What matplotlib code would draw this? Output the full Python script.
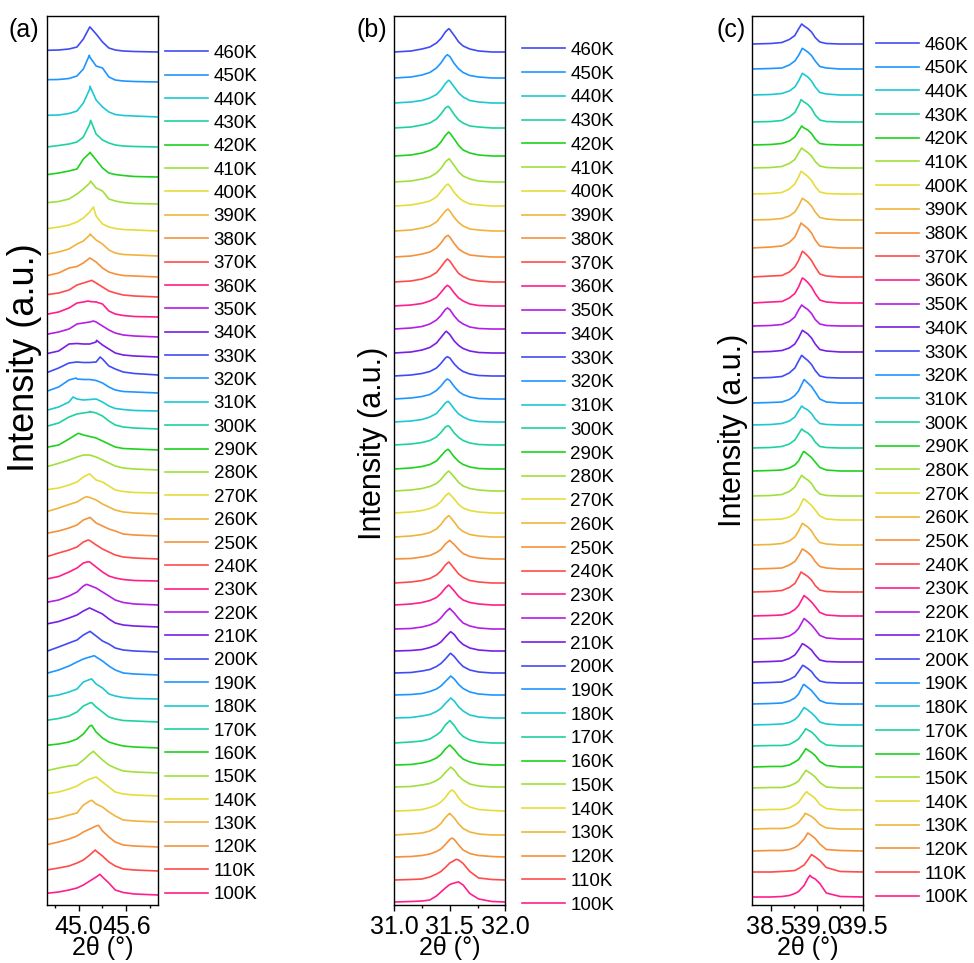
import numpy as np
import matplotlib
matplotlib.use('Agg')
import matplotlib.pyplot as plt
from matplotlib.ticker import FormatStrFormatter

plt.rcParams['font.family'] = ['Liberation Sans', 'DejaVu Sans']

# ---------------- data ----------------
temps = [460, 450, 440, 430, 420, 410, 400, 390, 380, 370, 360, 350, 340, 330,
         320, 310, 300, 290, 280, 270, 260, 250, 240, 230, 220, 210, 200, 190,
         180, 170, 160, 150, 140, 130, 120, 110, 100]
labels = [f'{t}K' for t in temps]

colors = ['#3f4cf5', '#1e96ff', '#1ec8d2', '#1ed2a0', '#1ed21e', '#a0e03c',
          '#e6dc3c', '#f0b43c', '#f5913c', '#ff4b4b', '#ff1e8c', '#b41ee6',
          '#781ee6']

# panel (a)
a_grid = [44.6, 44.75, 44.88, 44.98, 45.06, 45.14, 45.22, 45.30, 45.38, 45.46, 45.56, 45.7, 46.0]
a_offsets = [853, 823, 788, 758, 728, 701, 674, 649, 628, 608, 588, 568, 548, 530, 512, 494,
             476, 455, 435, 412, 391, 369, 346, 324, 300, 278, 253, 230, 206, 183, 157, 132,
             109, 83, 58, 34, 10]
a_peak_x = [45.143, 45.135, 45.143, 45.151, 45.143, 45.151, 45.185, 45.143, 45.143, 45.164,
            45.12, 45.185, 45.226, 45.27, 44.97, 44.93, 45.14, 45.0, 45.1, 45.135, 45.10,
            45.143, 45.12, 45.12, 45.10, 45.135, 45.143, 45.197, 45.165, 45.165, 45.165,
            45.185, 45.22, 45.165, 45.25, 45.21, 45.268]
a_peak_h = [25, 26.7, 30.7, 26.7, 24.7, 23, 24, 22, 19, 16.7, 16, 16, 16.7, 18, 15, 14, 17.5,
            16.7, 15, 19, 17.3, 18.7, 19, 19.3, 20.7, 19, 20.7, 19.3, 20, 19.3, 22.7, 21.7,
            19, 21.7, 21.7, 21, 20.7]
a_profiles = [
    [1.7, 2, 3, 5, 13, 25, 18, 10, 4, 2, 1, 0.5, 0],
    [2.3, 2.5, 3.5, 6, 13, 25, 16, 14, 5, 2, 1, 0.5, 0],
    [1.7, 2, 3.5, 6, 14, 28, 17, 10, 5, 2.5, 1.5, 1, 0],
    [0, 1.5, 3, 5, 10, 23, 13, 7, 4, 2, 1, 0.5, 0],
    [2.3, 4, 6, 8, 18, 24, 17, 9, 4, 2.5, 1.5, 0.5, 0],
    [1.3, 2.5, 5, 10, 15, 21, 16, 13, 5, 3, 1.5, 0.5, 0],
    [2.3, 4, 6, 9, 13, 19, 15, 7, 4, 2.5, 1.5, 1, 0],
    [1.7, 4, 7, 12, 15, 21, 16, 12, 6, 3, 1.5, 1, 0],
    [1.3, 4, 9, 10.5, 14, 19, 15, 9, 5, 3, 1.5, 1, 0],
    [2.3, 4, 7, 12, 14, 16, 14, 10, 6, 4, 2, 1, 0],
    [2.7, 5, 9, 14, 15, 15.5, 15, 13, 6, 3, 1.5, 0.5, 0],
    [2.7, 5, 8, 13, 14, 15, 15, 11, 7, 4, 2, 1, 0],
    [3.3, 6, 13, 13.5, 13, 13, 15, 12, 8, 4, 2, 1, 0],
    [2.3, 7, 12, 13, 12.5, 12.5, 13, 16, 9, 6, 3, 1.5, 0],
    [1.7, 6, 13, 14, 13.5, 13.5, 12.5, 10, 6, 3, 1.5, 1, 0],
    [0.7, 4, 9, 12, 11, 11.5, 12, 9, 5, 2.5, 1.5, 0.5, 0],
    [2.7, 6, 12, 15, 16, 17, 16, 13, 8, 4, 2, 1, 0],
    [2.7, 5, 11, 16, 15, 13.5, 12, 9, 6, 3, 1.5, 1, 0],
    [3.3, 6.7, 10, 13, 15, 15, 13, 10, 7, 4, 2, 1, 0],
    [3.3, 5, 8, 11, 16, 19, 13, 11, 7, 3, 1.5, 0.5, 0],
    [2.3, 6, 9.5, 12, 16, 16.5, 14, 10, 7, 4, 2, 1, 0],
    [2.7, 5, 8, 11, 16, 18.5, 13, 10, 7, 5, 2, 1, 0],
    [2.3, 6, 9, 12, 17, 18.5, 14, 10, 7, 4, 2, 1, 0],
    [2, 4.5, 9, 13, 18, 19, 14, 9, 5, 3, 1.5, 0.5, 0],
    [2.7, 5, 9, 13, 19, 19.5, 17, 13, 9, 5, 2.5, 1, 0],
    [3, 5.5, 9, 12, 16, 19, 16, 13, 8, 4, 2, 1, 0],
    [0.7, 5, 9, 12, 17, 20.5, 16, 11, 8, 4, 2, 1, 0],
    [1.7, 5, 9, 13, 16, 18, 18, 14, 9, 5, 2, 1, 0],
    [2.3, 4, 7, 10, 17, 19.5, 15, 11, 5, 3, 1.5, 0.5, 0],
    [1.7, 3.5, 6, 10, 16, 19, 15, 10, 5, 3, 1.5, 1, 0],
    [2.7, 4, 6, 9, 14, 22, 16, 10, 6, 4, 2, 1, 0],
    [2.3, 5, 7, 8, 13, 19, 19, 13, 8, 5, 2, 1, 0],
    [2.3, 4, 7, 10, 14, 17, 19, 14, 9, 4, 2, 1, 0],
    [2.3, 4, 7, 9, 17, 21, 18, 15, 10, 6, 2, 1, 0],
    [2.3, 5, 8, 11, 15, 18, 21, 16, 10, 5, 2, 1, 0],
    [1, 3, 5, 8, 11, 16, 20, 15, 9, 5, 2, 1, 0],
    [1.7, 3, 5, 7, 10, 14, 18, 18, 12, 5, 2.5, 1, 0],
]
a_xlim = (44.6, 46.0)
a_major = [45.0, 45.6]
a_minor = [44.7, 45.3, 45.9]

# panel (b)
b_grid = [31.0, 31.15, 31.25, 31.32, 31.38, 31.42, 31.46, 31.5, 31.54, 31.58, 31.62, 31.68, 31.76, 31.88, 32.0]
b_offsets = [853, 827, 802, 777, 749, 723, 699, 674, 648, 623, 599, 576, 552, 529, 506, 483,
             460, 436, 414, 392, 368, 346, 322, 300, 276, 254, 232, 210, 187, 162, 140, 118,
             94, 70, 48, 25, 3]
b_peak_x = [31.49, 31.478, 31.49, 31.484, 31.49, 31.493, 31.484, 31.484, 31.484, 31.478, 31.478,
            31.478, 31.469, 31.478, 31.478, 31.484, 31.484, 31.484, 31.49, 31.49, 31.49, 31.499,
            31.49, 31.49, 31.499, 31.508, 31.508, 31.508, 31.508, 31.499, 31.499, 31.508, 31.52,
            31.499, 31.52, 31.559, 31.574]
b_peak_h = [23.3, 23.3, 22.7, 21.7, 24, 23.3, 22, 22, 21.7, 23, 20.7, 21, 21.7, 19.3, 20, 20.7,
            19.3, 19.7, 20, 20, 21.3, 18.7, 21, 20, 20.7, 19.3, 19.7, 19, 20, 22.3, 20, 20, 21,
            21.7, 19, 20.7, 20]
b_profiles = [
    [0, 1, 3, 5, 9, 13.5, 20, 22.5, 16.5, 10, 6, 3, 1, 0, 0],
    [0, 1, 3, 5.5, 10, 15, 21.5, 21.5, 14.5, 9, 5.5, 2.5, 1, 0, 0],
    [0, 1, 2.5, 5, 8.5, 13, 19.5, 22, 16, 10, 6, 2.5, 1, 0, 0],
    [0, 1, 3, 5, 9, 14, 20, 20, 13.5, 8, 5, 2, 1, 0, 0],
    [0, 1, 3, 5.5, 9, 14, 20.5, 23, 17, 10.5, 6, 3, 1, 0, 0],
    [0, 1, 3, 5, 9, 13.5, 20, 22.5, 16.5, 10, 6, 3, 1, 0, 0],
    [0, 1, 3, 5, 9, 14.5, 20, 20, 13.5, 8.5, 5, 2, 1, 0, 0],
    [0, 1, 3, 5, 9, 14.5, 20, 20, 13.5, 8.5, 5, 2, 1, 0, 0],
    [0, 1, 3, 5, 9, 14, 20, 20, 13.5, 8, 5, 2, 1, 0, 0],
    [0, 1, 3, 5.5, 9.5, 15, 21, 21, 14.5, 8.5, 5.5, 2.5, 1, 0, 0],
    [0, 1, 2.5, 5, 8.5, 13.5, 19, 19, 13, 8, 5, 2, 0.5, 0, 0],
    [0, 1, 2.5, 5, 9, 13.5, 19.5, 19.5, 13, 8, 5, 2, 0.5, 0, 0],
    [0, 1, 3, 5.5, 10, 15.5, 21, 18.5, 12, 7.5, 4.5, 2, 0.5, 0, 0],
    [0, 1, 2.5, 4.5, 8, 12.5, 18, 18, 12, 7.5, 4.5, 2, 0.5, 0, 0],
    [0, 1, 2.5, 4.5, 8.5, 13, 18.5, 18.5, 12.5, 7.5, 4.5, 2, 0.5, 0, 0],
    [0, 1, 2.5, 5, 8.5, 13.5, 19, 19, 13, 8, 5, 2, 0.5, 0, 0],
    [0, 1, 2.5, 4.5, 8, 12.5, 18, 18, 12, 7.5, 4.5, 2, 0.5, 0, 0],
    [0, 1, 2.5, 4.5, 8, 13, 18, 18, 12, 7.5, 4.5, 2, 0.5, 0, 0],
    [0, 1, 2.5, 4.5, 7.5, 11.5, 17, 19, 14, 8.5, 5, 2.5, 1, 0, 0],
    [0, 1, 2.5, 4.5, 7.5, 11.5, 17, 19, 14, 8.5, 5, 2.5, 1, 0, 0],
    [0, 1, 2.5, 4.5, 8, 12.5, 18.5, 20.5, 15, 9, 5.5, 2.5, 1, 0, 0],
    [0, 0.5, 2, 3.5, 6.5, 9.5, 15, 18.5, 14.5, 9.5, 5.5, 2.5, 1, 0, 0],
    [0, 1, 2.5, 4.5, 8, 12, 18, 20, 14.5, 9, 5.5, 2.5, 1, 0, 0],
    [0, 1, 2.5, 4.5, 7.5, 11.5, 17, 19, 14, 8.5, 5, 2.5, 1, 0, 0],
    [0, 0.5, 2, 4, 7, 11, 16.5, 20.5, 16, 10.5, 6, 3, 1, 0, 0],
    [0, 0.5, 1.5, 3.5, 6, 9, 14, 18.5, 16.5, 10.5, 6.5, 3, 1, 0, 0],
    [0, 0.5, 2, 3.5, 6.5, 9.5, 14, 19, 16.5, 11, 6.5, 3, 1, 0, 0],
    [0, 0.5, 1.5, 3.5, 6, 9, 13.5, 18, 16, 10.5, 6.5, 3, 1, 0, 0],
    [0, 0.5, 2, 3.5, 6.5, 9.5, 14.5, 19, 17, 11, 7, 3, 1, 0, 0],
    [0, 1, 2, 4, 8, 11.5, 18, 22.5, 17.5, 11, 6.5, 3, 1, 0, 0],
    [0, 0.5, 2, 4, 7, 10.5, 16, 20, 15.5, 10, 6, 3, 1, 0, 0],
    [0, 0.5, 2, 3.5, 6.5, 9.5, 14.5, 19, 17, 11, 7, 3, 1, 0, 0],
    [0, 0.5, 1.5, 3.5, 6, 9, 13.5, 19.5, 19.5, 13, 8, 4, 1.5, 0.5, 0],
    [0, 1, 2, 4, 7.5, 11.5, 17.5, 21.5, 17, 11, 6.5, 3, 1, 0, 0],
    [0, 0.5, 1.5, 3, 5.5, 8, 12.5, 17.5, 17.5, 12, 7, 3.5, 1.5, 0.5, 0],
    [0, 0.5, 1, 3, 6, 8.5, 12.5, 17, 19.5, 20, 16.5, 8.5, 2, 0.5, 0],
    [0, 0.5, 1, 2, 6, 10, 14, 17.5, 19, 20, 17, 8.5, 3, 0.5, 0],
]
b_xlim = (31.0, 32.0)
b_major = [31.0, 31.5, 32.0]
b_minor = [31.25, 31.75]

# panel (c)
c_grid = [38.3, 38.5, 38.62, 38.7, 38.76, 38.8, 38.86, 38.9, 38.94, 38.98, 39.03, 39.1, 39.25, 39.5]
c_offsets = [861, 836, 810, 783, 760, 737, 711, 685, 657, 628, 602, 579, 553, 527, 502, 480,
             457, 434, 409, 385, 360, 336, 313, 289, 266, 243, 222, 201, 180, 159, 138, 117,
             95, 76, 54, 33, 8]
c_peak_x = [38.834, 38.841, 38.841, 38.827, 38.834, 38.834, 38.827, 38.841, 38.827, 38.841,
            38.841, 38.834, 38.841, 38.834, 38.862, 38.834, 38.834, 38.852, 38.834, 38.852,
            38.841, 38.841, 38.827, 38.862, 38.859, 38.841, 38.845, 38.852, 38.862, 38.877,
            38.877, 38.88, 38.888, 38.87, 38.899, 38.942, 38.924]
c_peak_h = [20, 20.7, 21.7, 22.3, 19, 20, 22.7, 21.7, 25, 25.7, 25, 21, 21.7, 22.7, 23.3, 19,
            19, 19.3, 20.7, 21, 21.7, 20, 20, 20.3, 20.3, 18.3, 17.7, 19.3, 17.3, 17.3, 18.3,
            17.7, 18.3, 15.7, 18, 17.3, 21.7]
c_profiles = [
    [0, 0.5, 1.5, 4.5, 8.5, 15, 18, 15.5, 12, 6.5, 2, 0.5, 0, 0],
    [0, 0.5, 1, 4, 8, 13.5, 19.5, 17, 13.5, 8, 2.5, 1, 0, 0],
    [0, 0.5, 1.5, 4, 8, 14, 20.5, 18, 14, 8, 2.5, 1, 0, 0],
    [0, 0.5, 1.5, 5, 9.5, 16.5, 20, 17.5, 13.5, 7, 2, 0.5, 0, 0],
    [0, 0.5, 1.5, 4, 8, 14, 17, 15, 11.5, 6, 1.5, 0.5, 0, 0],
    [0, 0.5, 1.5, 4.5, 8.5, 15, 18, 15.5, 12, 6.5, 2, 0.5, 0, 0],
    [0, 0.5, 1.5, 5, 10, 17, 20.5, 17.5, 13.5, 7.5, 2, 0.5, 0, 0],
    [0, 0.5, 1.5, 4, 8, 14, 20.5, 18, 14, 8, 2.5, 1, 0, 0],
    [0, 1, 2, 5.5, 11, 19, 22.5, 19.5, 15, 8, 2, 1, 0, 0],
    [0, 1, 1.5, 5, 10, 16.5, 24.5, 21, 16.5, 10, 3, 1, 0, 0],
    [0, 1, 1.5, 5, 9.5, 16, 24, 20.5, 16, 9.5, 3, 1, 0, 0],
    [0, 0.5, 1.5, 4.5, 9, 16, 19, 16.5, 12.5, 6.5, 2, 0.5, 0, 0],
    [0, 0.5, 1.5, 4, 8, 14, 20.5, 18, 14, 8, 2.5, 1, 0, 0],
    [0, 0.5, 1.5, 5, 10, 17, 20.5, 17.5, 13.5, 7.5, 2, 0.5, 0, 0],
    [0, 0.5, 1, 3.5, 7.5, 12, 23.5, 20, 16.5, 11, 4, 1, 0, 0],
    [0, 0.5, 1.5, 4, 8, 14, 17, 15, 11.5, 6, 1.5, 0.5, 0, 0],
    [0, 0.5, 1.5, 4, 8, 14, 17, 15, 11.5, 6, 1.5, 0.5, 0, 0],
    [0, 0.5, 1, 3, 6, 10, 19.5, 16.5, 13.5, 9, 3.5, 1, 0, 0],
    [0, 0.5, 1.5, 4.5, 9, 15.5, 18.5, 16, 12.5, 6.5, 2, 0.5, 0, 0],
    [0, 0.5, 1, 3, 6.5, 11, 21, 18, 14.5, 10, 4, 1, 0, 0],
    [0, 0.5, 1.5, 4, 8, 14, 20.5, 18, 14, 8, 2.5, 1, 0, 0],
    [0, 0.5, 1, 4, 7.5, 13, 19, 16.5, 13, 7.5, 2.5, 1, 0, 0],
    [0, 0.5, 1.5, 4.5, 8.5, 15, 18, 15.5, 12, 6.5, 2, 0.5, 0, 0],
    [0, 0.5, 1, 3, 6.5, 10.5, 20.5, 17.5, 14, 9.5, 3.5, 1, 0, 0],
    [0, 0.5, 1, 3, 6.5, 10.5, 20.5, 17.5, 14, 9.5, 3.5, 1, 0, 0],
    [0, 0.5, 1, 3.5, 7, 12, 17.5, 15, 12, 7, 2, 0.5, 0, 0],
    [0, 0.5, 1, 3.5, 6.5, 11.5, 17, 14.5, 11.5, 6.5, 2, 0.5, 0, 0],
    [0, 0.5, 1, 3, 6, 10, 19.5, 16.5, 13.5, 9, 3.5, 1, 0, 0],
    [0, 0.5, 1, 2.5, 5.5, 9, 17.5, 15, 12, 8.5, 3, 1, 0, 0],
    [0, 0.5, 0.5, 1.5, 4.5, 7, 14.5, 16, 14, 10.5, 5, 1, 0, 0],
    [0, 0.5, 0.5, 2, 5, 7.5, 15.5, 17, 14.5, 11.5, 5.5, 1.5, 0, 0],
    [0, 0.5, 0.5, 2, 4.5, 7, 15, 16.5, 14, 11, 5.5, 1, 0, 0],
    [0, 0.5, 0.5, 2, 5, 7.5, 15.5, 17, 14.5, 11.5, 5.5, 1.5, 0, 0],
    [0, 0.5, 0.5, 1.5, 4, 6.5, 13.5, 14.5, 12.5, 9.5, 4.5, 1, 0, 0],
    [0, 0.5, 0.5, 1.5, 3.5, 6, 12, 18, 15.5, 12.5, 7, 1.5, 0.5, 0],
    [0, 0, 0.5, 1, 1.5, 3.5, 7, 12, 17.5, 15, 11.5, 4.5, 0.5, 0],
    [0, 0, 0.5, 1.5, 3.5, 5.5, 11.5, 18.5, 20, 18, 13.5, 4, 0.5, 0],
]
c_xlim = (38.3, 39.5)
c_major = [38.5, 39.0, 39.5]
c_minor = [38.75, 39.25]

# ---------------- layout ----------------
W, H = 974, 963
fig = plt.figure(figsize=(W / 100, H / 100), dpi=100)


def fig_rect(left, top, right, bottom):
    return [left / W, 1 - bottom / H, (right - left) / W, (bottom - top) / H]


panels = [
    dict(grid=a_grid, prof=a_profiles, off=a_offsets, px=a_peak_x, ph=a_peak_h,
         xlim=a_xlim, major=a_major, minor=a_minor,
         box=(46.7, 15.7, 158.3, 905), tag='(a)', tag_xy=(8, 30),
         ylab_xy=(25, 358), ylab_fs=26, leg_xy=(165, 44.7), lsp=0.333),
    dict(grid=b_grid, prof=b_profiles, off=b_offsets, px=b_peak_x, ph=b_peak_h,
         xlim=b_xlim, major=b_major, minor=b_minor,
         box=(394.3, 15.7, 505.3, 905), tag='(b)', tag_xy=(357, 30),
         ylab_xy=(373, 443), ylab_fs=22, leg_xy=(521.5, 41.8), lsp=0.353),
    dict(grid=c_grid, prof=c_profiles, off=c_offsets, px=c_peak_x, ph=c_peak_h,
         xlim=c_xlim, major=c_major, minor=c_minor,
         box=(752.3, 15.7, 863.3, 905), tag='(c)', tag_xy=(717, 30),
         ylab_xy=(733, 430), ylab_fs=22, leg_xy=(876, 36.5), lsp=0.35),
]

for p in panels:
    ax = fig.add_axes(fig_rect(*p['box']))
    handles = []
    for i, t in enumerate(temps):
        xs = np.array(p['grid'] + [p['px'][i]])
        ys = np.array(p['prof'][i] + [p['ph'][i]])
        order = np.argsort(xs, kind='stable')
        ln, = ax.plot(xs[order], ys[order] + p['off'][i], color=colors[i % len(colors)],
                      lw=1.2, label=labels[i])
        handles.append(ln)
    ax.set_xlim(*p['xlim'])
    ax.set_ylim(0, 889.3)
    ax.set_yticks([])
    ax.set_xticks(p['major'])
    ax.set_xticks(p['minor'], minor=True)
    ax.xaxis.set_major_formatter(FormatStrFormatter('%.1f'))
    ax.tick_params(axis='x', which='major', direction='out', length=4, width=1,
                   labelsize=18, pad=3.5)
    ax.tick_params(axis='x', which='minor', direction='out', length=2.5, width=1)
    for s in ax.spines.values():
        s.set_linewidth(1.0)
        s.set_color('black')
    ax.set_xlabel('2θ (°)', fontsize=18, labelpad=-2.5)

    fig.text(p['tag_xy'][0] / W, 1 - p['tag_xy'][1] / H, p['tag'], fontsize=18,
             ha='left', va='center')
    fig.text(p['ylab_xy'][0] / W, 1 - p['ylab_xy'][1] / H, 'Intensity (a.u.)',
             fontsize=p['ylab_fs'], rotation=90, ha='center', va='center')

    ax.legend(handles, labels, loc='upper left',
              bbox_to_anchor=(p['leg_xy'][0] / W, 1 - p['leg_xy'][1] / H),
              bbox_transform=fig.transFigure, frameon=False, fontsize=13.5,
              borderpad=0, borderaxespad=0, handlelength=2.3, handletextpad=0.3,
              labelspacing=p['lsp'])

fig.savefig('out.png', dpi=100)
